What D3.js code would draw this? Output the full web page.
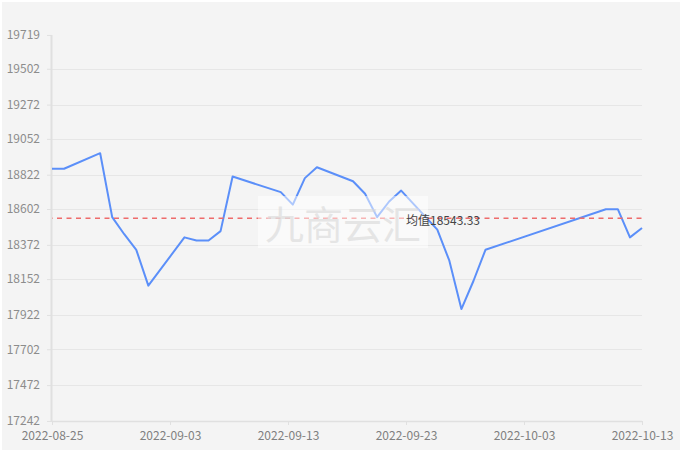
<!DOCTYPE html>
<html>
<head>
<meta charset="utf-8">
<script src="https://cdn.jsdelivr.net/npm/d3@7"></script>
<style>
  html, body { margin: 0; padding: 0; background: #ffffff; }
  svg { display: block; }
  text { font-family: "Noto Sans CJK SC", "Noto Sans", sans-serif; }
</style>
</head>
<body>
<svg id="chart" width="682" height="452"></svg>
<script>
// ---- data ----
const dates = [
  "2022-08-25","2022-08-26","2022-08-29","2022-08-30","2022-08-31",
  "2022-09-01","2022-09-02","2022-09-05","2022-09-06","2022-09-07",
  "2022-09-08","2022-09-09","2022-09-13","2022-09-14","2022-09-15",
  "2022-09-16","2022-09-19","2022-09-20","2022-09-21","2022-09-22",
  "2022-09-23","2022-09-26","2022-09-27","2022-09-28","2022-09-29",
  "2022-09-30","2022-10-10","2022-10-11","2022-10-12","2022-10-13"
];
const prices = [
  18860, 18860, 18960, 18550, 18440,
  18340, 18110, 18420, 18400, 18400,
  18460, 18810, 18710, 18630, 18800,
  18870, 18780, 18700, 18550, 18650,
  18720, 18470, 18270, 17960, 18140,
  18340, 18600, 18600, 18420, 18480
];
const yTickValues = [17242, 17472, 17702, 17922, 18152, 18372, 18602, 18822, 19052, 19272, 19502, 19719];
const xTickLabels = ["2022-08-25", "2022-09-03", "2022-09-13", "2022-09-23", "2022-10-03", "2022-10-13"];
const meanLabelPrefix = "均值";
const watermarkText = "九商云汇";

// ---- layout ----
const svg = d3.select("#chart");
const W = 682, H = 452;
const mLeft = 52, mRight = 642, mTop = 35, mBottom = 421;

const parse = d3.timeParse("%Y-%m-%d");
const data = dates.map((d, i) => ({ date: parse(d), value: prices[i] }));

const yMin = d3.min(prices) * 0.96;
const yMax = d3.max(prices) * 1.04;
const x = d3.scaleTime()
  .domain([parse(dates[0]), parse(dates[dates.length - 1])])
  .range([mLeft, mRight]);
const y = d3.scaleLinear().domain([yMin, yMax]).range([mBottom, mTop]);

// background
svg.append("rect").attr("x", 2).attr("y", 2).attr("width", W - 4).attr("height", H - 4)
  .attr("fill", "#f4f4f4");

// grid lines (no line at the very top or bottom)
svg.append("g").selectAll("line").data(yTickValues.slice(1, -1)).join("line")
  .attr("x1", mLeft).attr("x2", mRight)
  .attr("y1", d => Math.round(y(d)) + 0.5).attr("y2", d => Math.round(y(d)) + 0.5)
  .attr("stroke", "#e6e6e6").attr("stroke-width", 1);

// y axis
const yAxis = d3.axisLeft(y).tickValues(yTickValues).tickSize(5).tickPadding(7)
  .tickFormat(d3.format("d"));
const gy = svg.append("g").attr("transform", `translate(${mLeft},0)`).call(yAxis);
gy.select(".domain").attr("stroke", "#e0e0e0").attr("d", `M-0.5,${mTop}V${mBottom}`).attr("stroke-width", 2);
gy.selectAll(".tick line").attr("stroke", "#e0e0e0");
gy.selectAll(".tick text").attr("fill", "#8c8c8c").attr("font-size", 12);

// x axis: ticks split the date range evenly
const d0 = x.domain()[0].getTime(), d1 = x.domain()[1].getTime();
const xTickDates = xTickLabels.map((_, i) => new Date(d0 + (d1 - d0) * i / (xTickLabels.length - 1)));
const xAxis = d3.axisBottom(x).tickValues(xTickDates).tickSize(4).tickPadding(6)
  .tickFormat((d, i) => xTickLabels[i]);
const gx = svg.append("g").attr("transform", `translate(0,${mBottom})`).call(xAxis);
gx.select(".domain").attr("stroke", "#e0e0e0").attr("d", `M${mLeft},0.5H${mRight}`).attr("stroke-width", 1.5);
gx.selectAll(".tick line").attr("stroke", "#e0e0e0");
gx.selectAll(".tick text").attr("fill", "#808080").attr("font-size", 12);

// price line
const line = d3.line().x(d => x(d.date)).y(d => y(d.value));
svg.append("path").datum(data)
  .attr("d", line)
  .attr("fill", "none")
  .attr("stroke", "#5b8ff9")
  .attr("stroke-width", 2)
  .attr("stroke-linejoin", "round");

// mean line
const meanValue = d3.mean(prices);
svg.append("line")
  .attr("x1", mLeft).attr("x2", mRight)
  .attr("y1", y(meanValue)).attr("y2", y(meanValue))
  .attr("stroke", "#ee6b6b").attr("stroke-width", 1.5)
  .attr("stroke-dasharray", "5,4.5").attr("stroke-dashoffset", 4.5);

// watermark
const wm = svg.append("g");
wm.append("rect").attr("x", 258).attr("y", 196).attr("width", 170).attr("height", 52)
  .attr("fill", "rgba(255,255,255,0.5)");
wm.append("text").attr("x", 343).attr("y", 222).attr("text-anchor", "middle")
  .attr("dominant-baseline", "central")
  .attr("font-size", 39).attr("fill", "rgba(215,215,215,0.6)")
  .text(watermarkText);

// mean label
svg.append("text")
  .attr("x", 406).attr("y", y(meanValue) + 1)
  .attr("dominant-baseline", "central")
  .attr("font-size", 12).attr("fill", "#444")
  .text(meanLabelPrefix + d3.format(".2f")(meanValue));
</script>
</body>
</html>
